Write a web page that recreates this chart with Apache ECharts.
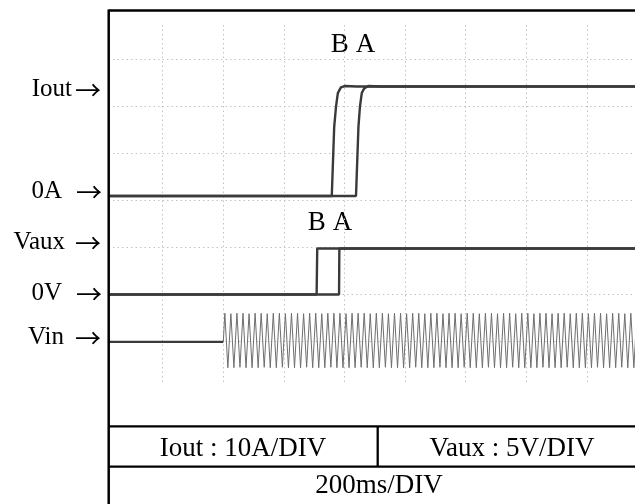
<!DOCTYPE html>
<html>
<head>
<meta charset="utf-8">
<script src="https://cdn.jsdelivr.net/npm/echarts@6/dist/echarts.min.js"></script>
<style>
html,body{margin:0;padding:0;background:#fff;}
#chart{width:635px;height:504px;}
</style>
</head>
<body>
<div id="chart"></div>
<script>
// ---- data (time in ms, 200 ms per division) ----
var timeTicks = [-200, 0, 200, 400, 600, 800, 1000, 1200, 1400, 1600];
// Iout (A), 10 A/DIV
var ioutB = [[-178,0],[558,0],[566,14.7],[572,19.0],[578,21.9],[588,23.1],[602,23.4],[640,23.3],[1600,23.3]];
var ioutA = [[-178,0],[638,0],[646,14.7],[651,19.0],[657,21.9],[665,22.9],[679,23.4],[720,23.3],[1600,23.3]];
// Vaux (V), 5 V/DIV
var vauxB = [[-178,0],[508,0],[510,4.9],[1600,4.9]];
var vauxA = [[-178,0],[582,0],[583,4.9],[1600,4.9]];
// Vin (divisions): flat part, then 50 Hz wave extremes every 10 ms
var vinFlat = [[-178,-0.03],[200,-0.03]];
var vinWaveStart = 205;
var vinWaveStep = 10;
var vinWavePeaks = [
 0.58,-0.58,0.57,-0.58,0.58,-0.57,0.58,-0.58,0.57,-0.58,
 0.58,-0.58,0.58,-0.57,0.57,-0.58,0.58,-0.58,0.58,-0.57,
 0.57,-0.58,0.58,-0.58,0.58,-0.58,0.57,-0.57,0.58,-0.58,
 0.58,-0.58,0.57,-0.58,0.58,-0.57,0.58,-0.58,0.58,-0.58,
 0.57,-0.58,0.58,-0.58,0.58,-0.57,0.58,-0.58,0.57,-0.58,
 0.58,-0.58,0.58,-0.57,0.57,-0.58,0.58,-0.58,0.58,-0.58,
 0.57,-0.58,0.58,-0.57,0.58,-0.58,0.57,-0.58,0.58,-0.58,
 0.58,-0.57,0.57,-0.58,0.58,-0.58,0.58,-0.58,0.57,-0.57,
 0.58,-0.58,0.58,-0.58,0.57,-0.58,0.58,-0.57,0.58,-0.58,
 0.57,-0.58,0.58,-0.58,0.58,-0.57,0.57,-0.58,0.58,-0.58,
 0.58,-0.58,0.57,-0.58,0.58,-0.57,0.58,-0.58,0.57,-0.58,
 0.58,-0.58,0.58,-0.57,0.57,-0.58,0.58,-0.58,0.58,-0.58,
 0.57,-0.58,0.58,-0.57,0.58,-0.58,0.57,-0.58,0.58,-0.58,
 0.58,-0.57,0.57,-0.58,0.58,-0.58,0.58,-0.58,0.57,-0.58
];
var channelLabels = ['Iout', '0A', 'Vaux', '0V', 'Vin'];
var traceLabels = ['B A', 'B A'];
var scaleTexts = ['Iout : 10A/DIV', 'Vaux : 5V/DIV', '200ms/DIV'];

// ---- build ----
var vinWave = [[200,-0.03]];
for (var i = 0; i < vinWavePeaks.length; i++) {
  vinWave.push([vinWaveStart + i * vinWaveStep, vinWavePeaks[i]]);
}

var FONT = "'Liberation Serif','Times New Roman',serif";
var ARROWFONT = "'Noto Sans CJK JP','Noto Sans CJK SC',sans-serif";
var traceColor = '#3a3a3a';
var gridDot = {type:[1.5,3], color:'#c2c2c2', width:1};

function lineSeries(data, yIdx, width, color) {
  return {
    type:'line', xAxisIndex:0, yAxisIndex:yIdx, data:data,
    showSymbol:false, symbol:'none', animation:false, silent:true,
    lineStyle:{width:width, color:color}, z:5
  };
}

var labelYs = [89, 191, 242, 293.5, 337.5];
var labelXs = [72, 62, 65, 62, 64];
var arrowXs = [75, 76, 75, 76, 75];
var graphics = [];
for (var k = 0; k < channelLabels.length; k++) {
  graphics.push({type:'text', x:labelXs[k], y:labelYs[k],
    style:{text:channelLabels[k], font:'25px ' + FONT, fill:'#000', textAlign:'right', textVerticalAlign:'middle'}});
  graphics.push({type:'text', x:arrowXs[k], y:labelYs[k] + 1,
    style:{text:'\u2192', font:'26px ' + ARROWFONT, fill:'#000', textAlign:'left', textVerticalAlign:'middle'}});
}
graphics.push({type:'text', x:353, y:45, style:{text:traceLabels[0], font:'27px ' + FONT, fill:'#000', textAlign:'center', textVerticalAlign:'middle'}});
graphics.push({type:'text', x:330, y:222.5, style:{text:traceLabels[1], font:'27px ' + FONT, fill:'#000', textAlign:'center', textVerticalAlign:'middle'}});
// frame and table
var lw = 2.3;
graphics.push({type:'line', shape:{x1:108.7, y1:10.5, x2:640, y2:10.5}, style:{stroke:'#000', lineWidth:lw}, z:10});
graphics.push({type:'line', shape:{x1:108.7, y1:9.4, x2:108.7, y2:510}, style:{stroke:'#000', lineWidth:2.5}, z:10});
graphics.push({type:'line', shape:{x1:108.7, y1:426.3, x2:640, y2:426.3}, style:{stroke:'#000', lineWidth:lw}, z:10});
graphics.push({type:'line', shape:{x1:108.7, y1:466.7, x2:640, y2:466.7}, style:{stroke:'#000', lineWidth:lw}, z:10});
graphics.push({type:'line', shape:{x1:377.7, y1:426.3, x2:377.7, y2:466.7}, style:{stroke:'#000', lineWidth:lw}, z:10});
graphics.push({type:'text', x:243, y:449, style:{text:scaleTexts[0], font:'27px ' + FONT, fill:'#000', textAlign:'center', textVerticalAlign:'middle'}});
graphics.push({type:'text', x:512, y:449, style:{text:scaleTexts[1], font:'27px ' + FONT, fill:'#000', textAlign:'center', textVerticalAlign:'middle'}});
graphics.push({type:'text', x:379, y:486, style:{text:scaleTexts[2], font:'27px ' + FONT, fill:'#000', textAlign:'center', textVerticalAlign:'middle'}});

var option = {
  backgroundColor:'#fff',
  animation:false,
  grid:[
    {left:102.1, width:545.4, top:25, height:359, outerBoundsMode:'none', containLabel:false},
    {left:113, right:0, top:59, height:282, outerBoundsMode:'none', containLabel:false}
  ],
  xAxis:[
    {gridIndex:0, type:'value', min:timeTicks[0], max:timeTicks[timeTicks.length-1], interval:200,
     axisLine:{show:false}, axisTick:{show:false}, axisLabel:{show:false},
     splitLine:{show:true, showMinLine:false, showMaxLine:false, lineStyle:gridDot}},
    {gridIndex:1, type:'value', min:0, max:1, show:false}
  ],
  yAxis:[
    {gridIndex:0, type:'value', min:-40, max:36.38, show:false},      // Iout A
    {gridIndex:0, type:'value', min:-9.52, max:28.67, show:false},    // Vaux V
    {gridIndex:0, type:'value', min:-0.926, max:6.713, show:false},   // Vin div
    {gridIndex:1, type:'value', min:0, max:6, interval:1,
     axisLine:{show:false}, axisTick:{show:false}, axisLabel:{show:false},
     splitLine:{show:true, showMinLine:true, showMaxLine:true, lineStyle:gridDot}}
  ],
  series:[
    lineSeries(vinWave, 2, 1, '#6e6e6e'),
    lineSeries(vinFlat, 2, 2.4, traceColor),
    lineSeries(vauxB, 1, 2.4, traceColor),
    lineSeries(vauxA, 1, 2.4, traceColor),
    lineSeries(ioutB, 0, 2.4, traceColor),
    lineSeries(ioutA, 0, 2.4, traceColor)
  ],
  graphic:{elements:graphics}
};

var chart = echarts.init(document.getElementById('chart'), null, {renderer:'canvas'});
chart.setOption(option);
</script>
</body>
</html>
